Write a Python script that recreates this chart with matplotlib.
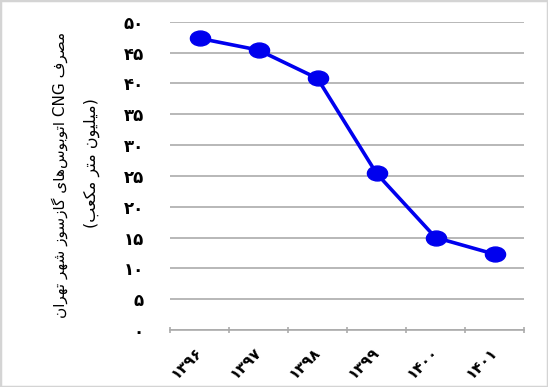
import re
import matplotlib
matplotlib.use("Agg")
import matplotlib.pyplot as plt
from matplotlib.path import Path
from matplotlib.transforms import Affine2D, ScaledTranslation
from matplotlib.patches import Rectangle

# ---------------- data ----------------
years = ["۱۳۹۶", "۱۳۹۷", "۱۳۹۸", "۱۳۹۹", "۱۴۰۰", "۱۴۰۱"]
values = [47.3, 45.4, 40.8, 25.4, 15.0, 12.3]
y_ticks = [0, 5, 10, 15, 20, 25, 30, 35, 40, 45, 50]
ylabel_line1 = "مصرف CNG اتوبوس‌های گازسوز شهر تهران"
ylabel_line2 = "(میلیون متر مکعب)"

# ------------- minimal Arabic/Persian shaping + bidi -------------
FORMS = {
    "ا": ("\uFE8D", "\uFE8E"),
    "ب": ("\uFE8F", "\uFE90", "\uFE91", "\uFE92"),
    "ت": ("\uFE95", "\uFE96", "\uFE97", "\uFE98"),
    "ر": ("\uFEAD", "\uFEAE"),
    "ز": ("\uFEAF", "\uFEB0"),
    "س": ("\uFEB1", "\uFEB2", "\uFEB3", "\uFEB4"),
    "ش": ("\uFEB5", "\uFEB6", "\uFEB7", "\uFEB8"),
    "ص": ("\uFEB9", "\uFEBA", "\uFEBB", "\uFEBC"),
    "ع": ("\uFEC9", "\uFECA", "\uFECB", "\uFECC"),
    "ف": ("\uFED1", "\uFED2", "\uFED3", "\uFED4"),
    "ل": ("\uFEDD", "\uFEDE", "\uFEDF", "\uFEE0"),
    "م": ("\uFEE1", "\uFEE2", "\uFEE3", "\uFEE4"),
    "ن": ("\uFEE5", "\uFEE6", "\uFEE7", "\uFEE8"),
    "ه": ("\uFEE9", "\uFEEA", "\uFEEB", "\uFEEC"),
    "و": ("\uFEED", "\uFEEE"),
    "ی": ("\uFBFC", "\uFBFD", "\uFBFE", "\uFBFF"),
    "گ": ("\uFB92", "\uFB93", "\uFB94", "\uFB95"),
    "ک": ("\uFB8E", "\uFB8F", "\uFB90", "\uFB91"),
}


def shape(s):
    out = []
    n = len(s)
    for i, c in enumerate(s):
        if c not in FORMS:
            out.append(c)
            continue
        prev = s[i - 1] if i > 0 else ""
        nxt = s[i + 1] if i < n - 1 else ""
        pj = prev in FORMS and len(FORMS[prev]) == 4
        nj = nxt in FORMS
        f = FORMS[c]
        if len(f) == 4:
            if pj and nj:
                out.append(f[3])
            elif pj:
                out.append(f[1])
            elif nj:
                out.append(f[2])
            else:
                out.append(f[0])
        else:
            out.append(f[1] if pj else f[0])
    return "".join(out)


def rtl(s):
    shaped = shape(s).replace("\u200c", "")
    rev = shaped[::-1]
    rev = re.sub(r"[A-Za-z0-9]+", lambda m: m.group(0)[::-1], rev)
    rev = rev.translate(str.maketrans("()", ")("))
    return rev


def fa_digits(v):
    return str(v).translate(str.maketrans("0123456789", "۰۱۲۳۴۵۶۷۸۹"))


# ---------------- figure ----------------
plt.rcParams["font.family"] = ["DejaVu Sans"]
fig = plt.figure(figsize=(5.48, 3.87), dpi=100)
fig.patch.set_facecolor("white")
fig.patches.append(Rectangle((0, 0), 1, 1, transform=fig.transFigure,
                             fill=False, edgecolor="#d4d4d4", linewidth=2.5))

ax = fig.add_axes([170 / 548, 1 - 330 / 387, 354 / 548, (330 - 21.7) / 387])

x = list(range(len(years)))
ell = Path.unit_circle().transformed(Affine2D().scale(1.0, 0.74))
ax.plot(x, values, color="#0000EE", linewidth=2.6, marker=ell,
        markersize=14.5, markerfacecolor="#0000EE", markeredgecolor="#0000EE",
        zorder=3, clip_on=False)

ax.set_xlim(-0.5, len(years) - 0.5)
ax.set_ylim(0, 50)
ax.set_yticks(y_ticks)
ax.set_yticklabels([fa_digits(v) for v in y_ticks], fontsize=12,
                   fontweight="bold")
ax.yaxis.grid(True, color="#ABABAB", linewidth=1.2)
ax.set_axisbelow(True)
ax.tick_params(axis="y", length=0, pad=19)

ax.set_xticks(x)
ax.set_xticklabels(years, rotation=45, ha="right", va="top", fontsize=11,
                   fontweight="bold")
ax.set_xticks([i - 0.5 for i in range(len(years) + 1)], minor=True)
ax.tick_params(axis="x", which="major", length=0, pad=10)
ax.tick_params(axis="x", which="minor", length=5, direction="inout",
               color="#ABABAB", width=1.2)
off = ScaledTranslation(6 / 100, 0, fig.dpi_scale_trans)
for lab in ax.get_xticklabels():
    lab.set_transform(lab.get_transform() + off)

for side in ["left", "right", "top"]:
    ax.spines[side].set_visible(False)
ax.spines["bottom"].set_color("#ABABAB")
ax.spines["bottom"].set_linewidth(1.2)

fig.text(60 / 548, 1 - 175 / 387, rtl(ylabel_line1), rotation=90,
         ha="center", va="center", fontsize=11)
fig.text(92 / 548, 1 - 163 / 387, rtl(ylabel_line2), rotation=90,
         ha="center", va="center", fontsize=11.5)

fig.savefig("out.png", dpi=100, facecolor="white")
